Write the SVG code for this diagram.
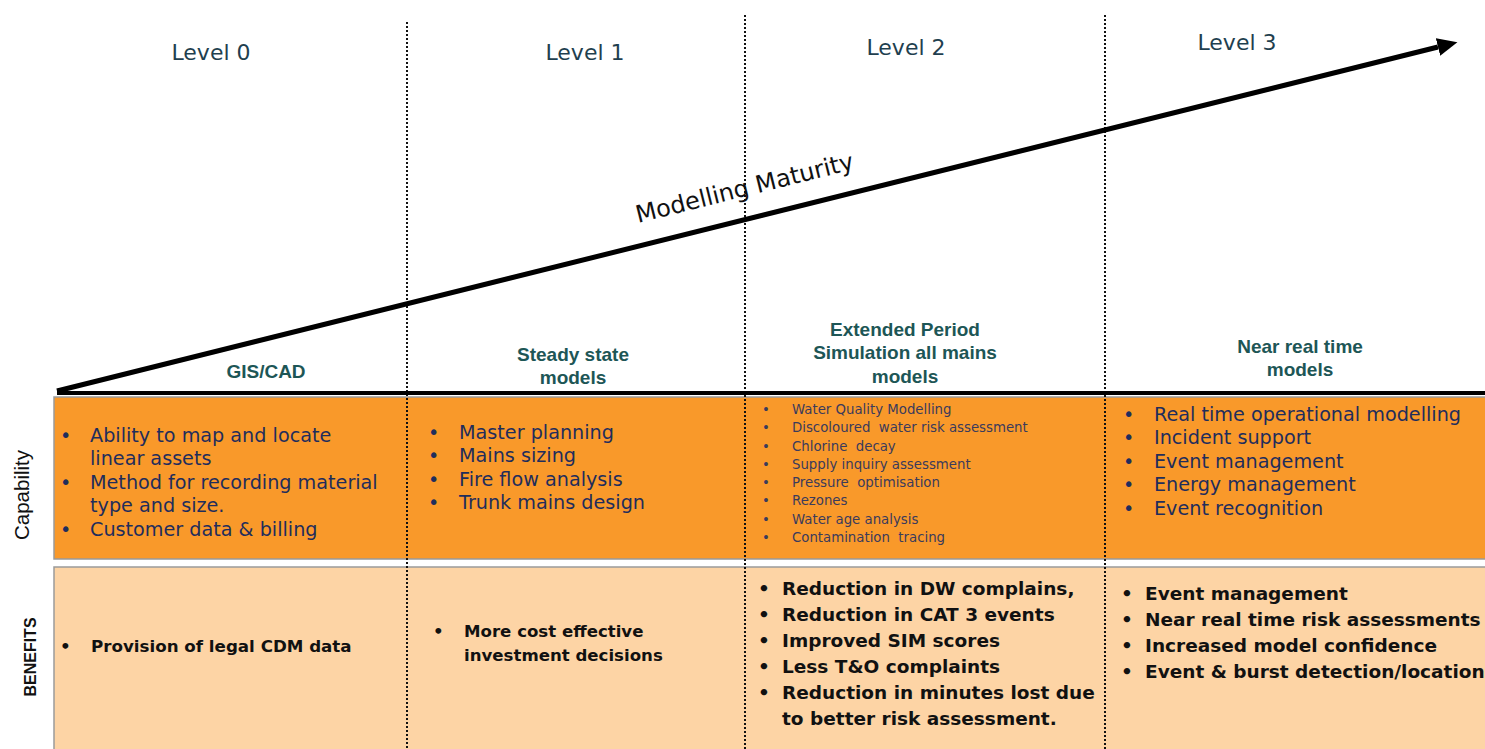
<svg xmlns="http://www.w3.org/2000/svg" width="1485" height="749" viewBox="0 0 1485 749">
<style>
.lvl{font-family:"DejaVu Sans",sans-serif;font-size:22px;fill:#1f3f4f;text-anchor:middle}
.hdr{font-family:"Liberation Sans",Arial,sans-serif;font-size:19px;font-weight:bold;fill:#1d5656;text-anchor:middle}
.cap{font-family:"DejaVu Sans",sans-serif;font-size:19.2px;fill:#1f2d5c}
.caps{font-family:"DejaVu Sans",sans-serif;font-size:13.3px;fill:#3b3b5c}
.ben{font-family:"DejaVu Sans",sans-serif;font-weight:bold;font-size:18.5px;fill:#111}
.dot{stroke:#111;stroke-width:2;stroke-dasharray:2 2;fill:none}
</style>
<defs>
<marker id="ah" markerWidth="5" markerHeight="5" refX="0" refY="1.8" orient="auto" markerUnits="strokeWidth">
<path d="M0,0 L4,1.8 L0,3.6 z" fill="#000"/>
</marker>
</defs>
<rect width="1485" height="749" fill="#fff"/>
<g id="bands">
<rect x="54" y="397" width="1440" height="162" fill="#f9992a" stroke="#9a9a9a" stroke-width="1.5"/>
<rect x="54" y="567" width="1440" height="190" fill="#fdd4a5" stroke="#9a9a9a" stroke-width="1.5"/>
</g>
<g id="dividers">
<line class="dot" x1="407" y1="22" x2="407" y2="749"/>
<line class="dot" x1="745" y1="15" x2="745" y2="749"/>
<line class="dot" x1="1105" y1="15" x2="1105" y2="749"/>
</g>
<g id="connectors">
<line x1="57" y1="393" x2="1485" y2="393" stroke="#000" stroke-width="4"/>
<line x1="57" y1="391" x2="1438" y2="47" stroke="#000" stroke-width="5" marker-end="url(#ah)"/>
</g>
<g id="title">
<text x="638" y="223" transform="rotate(-14 638 223)" font-family="DejaVu Sans,sans-serif" font-size="24" fill="#111">Modelling Maturity</text>
</g>
<g id="levels">
<text class="lvl" x="211" y="60">Level 0</text>
<text class="lvl" x="585" y="60">Level 1</text>
<text class="lvl" x="906" y="55">Level 2</text>
<text class="lvl" x="1237" y="50">Level 3</text>
</g>
<g id="headers">
<text class="hdr" x="266" y="378">GIS/CAD</text>
<text class="hdr" x="573" y="361">Steady state</text>
<text class="hdr" x="573" y="384">models</text>
<text class="hdr" x="905" y="336">Extended Period</text>
<text class="hdr" x="905" y="359">Simulation all mains</text>
<text class="hdr" x="905" y="383">models</text>
<text class="hdr" x="1300" y="353">Near real time</text>
<text class="hdr" x="1300" y="376">models</text>
</g>
<g id="row-labels">
<text x="29" y="495" transform="rotate(-90 29 495)" text-anchor="middle" font-family="Liberation Sans,Arial,sans-serif" font-size="20.5" fill="#111">Capability</text>
<text x="36" y="657" transform="rotate(-90 36 657)" text-anchor="middle" font-family="Liberation Sans,Arial,sans-serif" font-size="16" font-weight="bold" fill="#111">BENEFITS</text>
</g>
<g id="cap0" class="cap">
<text x="60" y="442">•</text><text x="90" y="442">Ability to map and locate</text>
<text x="90" y="465">linear assets</text>
<text x="60" y="489">•</text><text x="90" y="489">Method for recording material</text>
<text x="90" y="512">type and size.</text>
<text x="60" y="536">•</text><text x="90" y="536">Customer data &amp; billing</text>
</g>
<g id="cap1" class="cap">
<text x="428" y="439">•</text><text x="459" y="439">Master planning</text>
<text x="428" y="462">•</text><text x="459" y="462">Mains sizing</text>
<text x="428" y="486">•</text><text x="459" y="486">Fire flow analysis</text>
<text x="428" y="509">•</text><text x="459" y="509">Trunk mains design</text>
</g>
<g id="cap2" class="caps">
<text x="762" y="414">•</text><text x="792" y="414">Water Quality Modelling</text>
<text x="762" y="432">•</text><text x="792" y="432">Discoloured&#160; water risk assessment</text>
<text x="762" y="451">•</text><text x="792" y="451">Chlorine&#160; decay</text>
<text x="762" y="469">•</text><text x="792" y="469">Supply inquiry assessment</text>
<text x="762" y="487">•</text><text x="792" y="487">Pressure&#160; optimisation</text>
<text x="762" y="505">•</text><text x="792" y="505">Rezones</text>
<text x="762" y="524">•</text><text x="792" y="524">Water age analysis</text>
<text x="762" y="542">•</text><text x="792" y="542">Contamination&#160; tracing</text>
</g>
<g id="cap3" class="cap">
<text x="1123" y="421">•</text><text x="1154" y="421">Real time operational modelling</text>
<text x="1123" y="444">•</text><text x="1154" y="444">Incident support</text>
<text x="1123" y="468">•</text><text x="1154" y="468">Event management</text>
<text x="1123" y="491">•</text><text x="1154" y="491">Energy management</text>
<text x="1123" y="515">•</text><text x="1154" y="515">Event recognition</text>
</g>
<g id="ben0" class="ben">
<text x="60" y="652" font-size="16.7">•</text><text x="91" y="652" font-size="16.7">Provision of legal CDM data</text>
</g>
<g id="ben1" class="ben">
<text x="433" y="637" font-size="16.6">•</text><text x="464" y="637" font-size="16.6">More cost effective</text>
<text x="464" y="661" font-size="16.6">investment decisions</text>
</g>
<g id="ben2" class="ben">
<text x="758" y="595">•</text><text x="782" y="595">Reduction in DW complains,</text>
<text x="758" y="621">•</text><text x="782" y="621">Reduction in CAT 3 events</text>
<text x="758" y="647">•</text><text x="782" y="647">Improved SIM scores</text>
<text x="758" y="673">•</text><text x="782" y="673">Less T&amp;O complaints</text>
<text x="758" y="699">•</text><text x="782" y="699">Reduction in minutes lost due</text>
<text x="782" y="725">to better risk assessment.</text>
</g>
<g id="ben3" class="ben">
<text x="1121" y="600">•</text><text x="1145" y="600">Event management</text>
<text x="1121" y="626">•</text><text x="1145" y="626">Near real time risk assessments</text>
<text x="1121" y="652">•</text><text x="1145" y="652">Increased model confidence</text>
<text x="1121" y="678">•</text><text x="1145" y="678">Event &amp; burst detection/location</text>
</g>
</svg>
